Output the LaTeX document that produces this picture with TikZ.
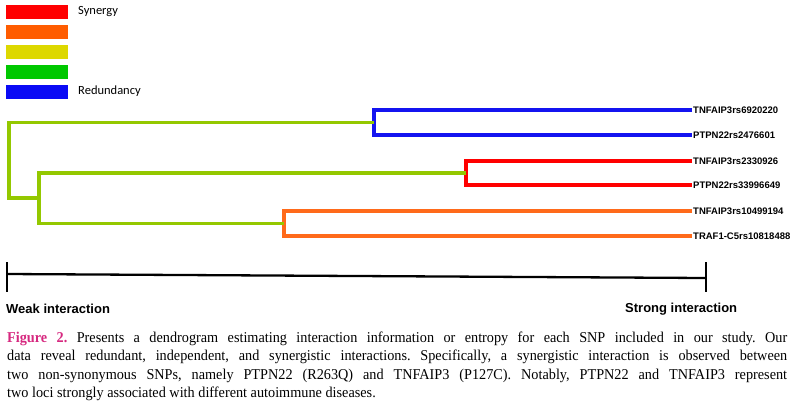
\documentclass[tikz,border=0pt]{standalone}
\usepackage{fontspec}
\setmainfont{Liberation Serif}
\newfontfamily\lblfont{Liberation Sans}
\newfontfamily\legfont{Carlito}
\newfontfamily\capfont[FakeStretch=0.95]{Liberation Serif}
\definecolor{lgred}{HTML}{FF0000}
\definecolor{lgorange}{HTML}{FF5C00}
\definecolor{lgyellow}{HTML}{DDD800}
\definecolor{lggreen}{HTML}{00C800}
\definecolor{lgblue}{HTML}{0A0AF5}
\definecolor{dgreen}{HTML}{94C800}
\definecolor{dorange}{HTML}{FF6A1A}
\definecolor{dred}{HTML}{FF0000}
\definecolor{dblue}{HTML}{1414F0}
\definecolor{figpink}{HTML}{D6287F}
\tikzset{
  legbox/.style={draw=none,fill=#1,minimum width=62pt,minimum height=14pt,inner sep=0pt,anchor=north west},
  legtext/.style={anchor=west,inner sep=0pt,font=\legfont\fontsize{12.5}{14}\selectfont},
  leaf/.style={anchor=west,inner sep=1pt,font=\lblfont\bfseries\fontsize{9.5}{11}\selectfont},
  branch/.style={line width=3.2pt,#1},
  tick/.style={line width=2.3pt,black},
  scaletext/.style={anchor=west,inner sep=0pt,font=\lblfont\bfseries\fontsize{13}{15}\selectfont},
  capline/.style={anchor=base west,inner sep=0pt,font=\capfont\fontsize{15}{18}\selectfont}
}
\begin{document}
\begin{tikzpicture}[x=1pt,y=-1pt]
\frenchspacing
\useasboundingbox (0,0) rectangle (794,400);
% legend
\node[legbox=lgred] (b1) at (6,5) {};
\node[legbox=lgorange] (b2) at (6,25) {};
\node[legbox=lgyellow] (b3) at (6,44.5) {};
\node[legbox=lggreen] (b4) at (6,64.5) {};
\node[legbox=lgblue] (b5) at (6,84.5) {};
\node[legtext] (syn) at (78,12) {Synergy};
\node[legtext] (red) at (78,91.5) {Redundancy};
% leaves
\node[leaf] (l1) at (692,110) {TNFAIP3rs6920220};
\node[leaf] (l2) at (692,135) {PTPN22rs2476601};
\node[leaf] (l3) at (692,161) {TNFAIP3rs2330926};
\node[leaf] (l4) at (692,185) {PTPN22rs33996649};
\node[leaf] (l5) at (692,211) {TNFAIP3rs10499194};
\node[leaf] (l6) at (692,236) {TRAF1-C5rs10818488};
% junctions
\coordinate (j1) at (374,122.5);
\coordinate (j2) at (466,173);
\coordinate (j3) at (284,223.5);
\coordinate (j4) at (39,198);
\coordinate (j5) at (9,122.5);
% blue cluster
\draw[branch=dblue] (l1.west) -| (j1) |- (l2.west);
% red cluster
\draw[branch=dred] (l3.west) -| (j2) |- (l4.west);
% orange cluster
\draw[branch=dorange] (l5.west) -| (j3) |- (l6.west);
% green joins
\draw[branch=dgreen] (j2) -| (j4) |- (j3);
\draw[branch=dgreen] (j1) -- (j5) |- (j4);
% scale bar
\coordinate (s1) at (7,274);
\coordinate (s2) at (706,278);
\draw[tick] (s1) -- (s2);
\draw[tick] (7,262) coordinate (t1a) -- (7,292) coordinate (t1b);
\draw[tick] (706,262) coordinate (t2a) -- (706,292) coordinate (t2b);
\node[scaletext] (weak) at (6,309) {Weak interaction};
\node[scaletext] (strong) at (625,309) {Strong interaction};
% caption
\node[capline] (c1) at (7,342) {\makebox[780pt][s]{\textcolor{figpink}{\bfseries Figure 2.} Presents a dendrogram estimating interaction information or entropy for each SNP included in our study. Our}};
\node[capline] (c2) at (7,360.5) {\makebox[780pt][s]{data reveal redundant, independent, and synergistic interactions. Specifically, a synergistic interaction is observed between}};
\node[capline] (c3) at (7,379) {\makebox[780pt][s]{two non-synonymous SNPs, namely PTPN22 (R263Q) and TNFAIP3 (P127C). Notably, PTPN22 and TNFAIP3 represent}};
\node[capline] (c4) at (7,397) {two loci strongly associated with different autoimmune diseases.};
\end{tikzpicture}
\end{document}
